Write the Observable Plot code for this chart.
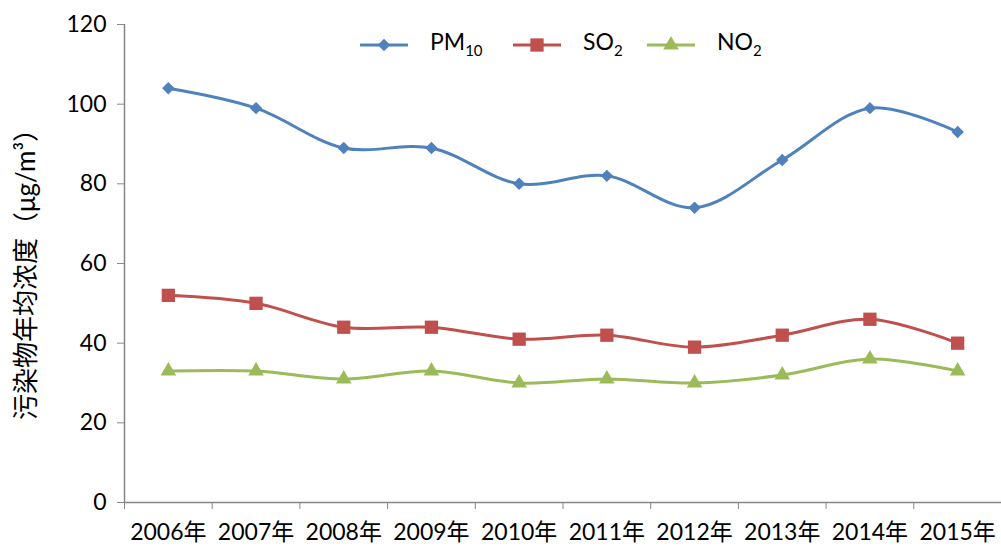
<!DOCTYPE html>
<html><head><meta charset="utf-8">
<script src="https://cdn.jsdelivr.net/npm/d3@7"></script>
<script src="https://cdn.jsdelivr.net/npm/@observablehq/plot@0.6"></script>
<style>
body{margin:0;background:#fff;font-family:Lato,"Noto Sans CJK SC",sans-serif;}
#wrap{position:relative;width:1001px;height:546px;}
.item{position:absolute;top:27px;display:flex;align-items:center;font-size:23px;color:#000;line-height:28px;}
.item svg{margin-right:22px;}
</style></head><body>
<div id="wrap"><div id="chart"></div></div>
<script>
const years = ["2006年","2007年","2008年","2009年","2010年","2011年","2012年","2013年","2014年","2015年"];
const pm10 = [104, 99, 89, 89, 80, 82, 74, 86, 99, 93];
const so2 = [52, 50, 44, 44, 41, 42, 39, 42, 46, 40];
const no2 = [33, 33, 31, 33, 30, 31, 30, 32, 36, 33];
const seriesNames = ["PM10","SO2","NO2"];
const colors = ["#4F81BD","#C0504D","#9BBB59"];
const symbols = ["diamond2","square","triangle"];
const yTicks = [0,20,40,60,80,100,120];

const values = [pm10, so2, no2];
const data = [];
values.forEach((arr, s) => arr.forEach((v, i) => data.push({series: seriesNames[s], i: i + 0.5, year: years[i], v})));

const marks = [];
const rs = [5.6, 7.5, 5.8];
seriesNames.forEach((name, s) => {
  const d = data.filter(e => e.series === name);
  marks.push(Plot.line(d, {x: "i", y: "v", stroke: colors[s], strokeWidth: 3, curve: "catmull-rom"}));
  marks.push(Plot.dot(d, {x: "i", y: "v", fill: colors[s], symbol: symbols[s], r: rs[s], stroke: "none"}));
});

const chart = Plot.plot({
  width: 1001, height: 546,
  marginLeft: 124, marginRight: 0, marginTop: 24, marginBottom: 44,
  style: {fontFamily: 'Lato,"Noto Sans CJK SC",sans-serif', fontSize: "23px", color: "#000", background: "#fff"},
  x: {domain: [0, years.length]},
  y: {domain: [0, 120]},
  marks: [
    Plot.axisY({ticks: yTicks, tickSize: 7, tickPadding: 11, stroke: "#868686", fontSize: 23, fill: "#000", label: null}),
    Plot.axisX({ticks: d3.range(0, years.length + 1), tickSize: 7, tickFormat: () => "", stroke: "#868686", label: null}),
    Plot.axisX({ticks: years.map((y, i) => i + 0.5), tickSize: 0, tickPadding: 21, tickFormat: (d) => years[Math.floor(d)], fontSize: 23, fill: "#000", label: null}),
    Plot.ruleX([0], {stroke: "#868686", strokeWidth: 1.5}),
    Plot.ruleY([0], {stroke: "#868686", strokeWidth: 1.5}),
    ...marks
  ]
});
document.getElementById("chart").appendChild(chart);

// y axis title
const svg = d3.select(chart);
svg.append("text")
  .attr("transform", "translate(25,268) rotate(-90)")
  .attr("text-anchor", "middle")
  .attr("dominant-baseline", "central")
  .attr("font-size", 26)
  .attr("fill", "#000")
  .style("font-family", 'Lato,"Noto Sans CJK SC",sans-serif')
  .text("污染物年均浓度（μg/m³）");

// legend
const labelsHtml = ['PM<sub style="font-size:15px">10</sub>', 'SO<sub style="font-size:15px">2</sub>', 'NO<sub style="font-size:15px">2</sub>'];
const lefts = [360, 513, 647];
const wrap = d3.select("#wrap");
seriesNames.forEach((name, s) => {
  const it = wrap.append("div").attr("class", "item").style("left", lefts[s] + "px");
  const sw = it.append("svg").attr("width", 48).attr("height", 20);
  sw.append("line").attr("x1", 0).attr("x2", 48).attr("y1", 10).attr("y2", 10).attr("stroke", colors[s]).attr("stroke-width", 3);
  const sym = {diamond2: d3.symbolDiamond2, square: d3.symbolSquare, triangle: d3.symbolTriangle}[symbols[s]];
  sw.append("path").attr("d", d3.symbol(sym, Math.PI * rs[s] * rs[s])()).attr("transform", "translate(24,10)").attr("fill", colors[s]);
  it.append("span").html(labelsHtml[s]);
});
</script>
</body></html>
